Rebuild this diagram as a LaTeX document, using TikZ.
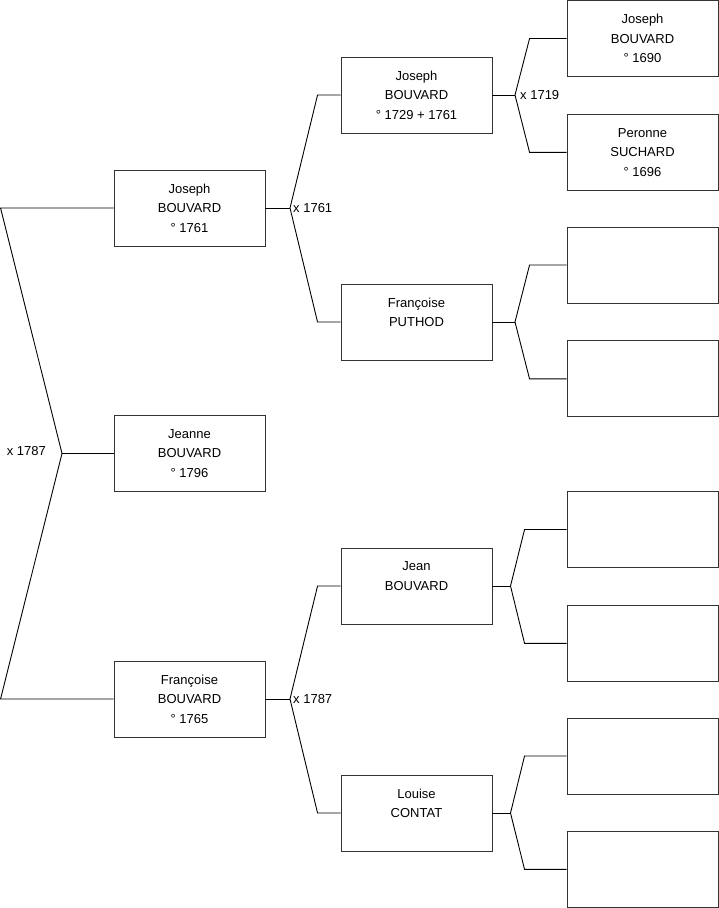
\documentclass[tikz,border=0pt]{standalone}
\usepackage{fontspec}
\setmainfont{Liberation Sans}
\usetikzlibrary{positioning}
\tikzset{
  font=\fontsize{13}{19.5}\selectfont,
  person/.style ={draw=black!80, line width=0.9pt, minimum height=76pt, minimum width=151pt, inner sep=0pt, align=center, fill=white},
  blank/.style  ={draw=black!80, line width=0.9pt, minimum height=76pt, minimum width=151pt, inner sep=0pt},
  link/.style   ={draw, line width=0.9pt, line join=miter},
  lbl/.style    ={inner sep=0pt, align=left},
}
\begin{document}
\begin{tikzpicture}[x=1pt, y=-1pt]
  \useasboundingbox (0,0) rectangle (719,908);
  % children
  \node[person] (jos1761) at (189.5,208)   {Joseph\\BOUVARD\\° 1761};
  \node[person] (jea1796) at (189.5,453.5) {Jeanne\\BOUVARD\\° 1796};
  \node[person] (fra1765) at (189.5,699)   {Françoise\\BOUVARD\\° 1765};
  % parents
  \node[person] (jos1729) at (416.5,95)  {Joseph\\BOUVARD\\° 1729 + 1761};
  \node[person] (puthod)  at (416.5,322) {Françoise\\PUTHOD\\~};
  \node[person] (jean)    at (416.5,586) {Jean\\BOUVARD\\~};
  \node[person] (contat)  at (416.5,813) {Louise\\CONTAT\\~};
  % grandparents
  \node[person] (jos1690) at (642.5,38.5) {Joseph\\BOUVARD\\° 1690};
  \node[person, below=37pt of jos1690] (suchard) {Peronne\\SUCHARD\\° 1696};
  \node[blank] (gp3) at (642.5,265)   {};
  \node[blank, below=37pt of gp3] (gp4) {};
  \node[blank] (gp5) at (642.5,529.5) {};
  \node[blank, below=37pt of gp5] (gp6) {};
  \node[blank] (gp7) at (642.5,756)   {};
  \node[blank, below=36.5pt of gp7] (gp8) {};
  % fork points
  \coordinate (m1787) at (62,453.5);
  \coordinate (m1761) at (290,208);
  \coordinate (m1765) at (290,699);
  \coordinate (m1719) at (515,95);
  \coordinate (mput)  at (515,322);
  \coordinate (mjean) at (510.5,586);
  \coordinate (mcon)  at (510.5,813);
  % root
  \draw[link] (jos1761.west) -- ([xshift=-113pt]jos1761.west) -- (m1787) -- ([xshift=-113pt]fra1765.west) -- (fra1765.west);
  \draw[link] (m1787) -- (jea1796.west);
  \node[lbl, anchor=east] at ([xshift=-16pt,yshift=2pt]m1787) {x 1787};
  % joseph 1761
  \draw[link] (jos1761.east) -- (m1761);
  \draw[link] (jos1729.west) -- ([xshift=-23pt]jos1729.west) -- (m1761) -- ([xshift=-23pt]puthod.west) -- (puthod.west);
  \node[lbl, anchor=west] at ([xshift=3pt]m1761) {x 1761};
  % francoise 1765
  \draw[link] (fra1765.east) -- (m1765);
  \draw[link] (jean.west) -- ([xshift=-23pt]jean.west) -- (m1765) -- ([xshift=-23pt]contat.west) -- (contat.west);
  \node[lbl, anchor=west] at ([xshift=3pt]m1765) {x 1787};
  % joseph 1729
  \draw[link] (jos1729.east) -- (m1719);
  \draw[link] (jos1690.west) -- ([xshift=-37pt]jos1690.west) -- (m1719) -- ([xshift=-37pt]suchard.west) -- (suchard.west);
  \node[lbl, anchor=west] at ([xshift=5pt]m1719) {x 1719};
  % puthod
  \draw[link] (puthod.east) -- (mput);
  \draw[link] (gp3.west) -- ([xshift=-37pt]gp3.west) -- (mput) -- ([xshift=-37pt]gp4.west) -- (gp4.west);
  % jean
  \draw[link] (jean.east) -- (mjean);
  \draw[link] (gp5.west) -- ([xshift=-42pt]gp5.west) -- (mjean) -- ([xshift=-42pt]gp6.west) -- (gp6.west);
  % contat
  \draw[link] (contat.east) -- (mcon);
  \draw[link] (gp7.west) -- ([xshift=-42pt]gp7.west) -- (mcon) -- ([xshift=-42pt]gp8.west) -- (gp8.west);
\end{tikzpicture}
\end{document}
